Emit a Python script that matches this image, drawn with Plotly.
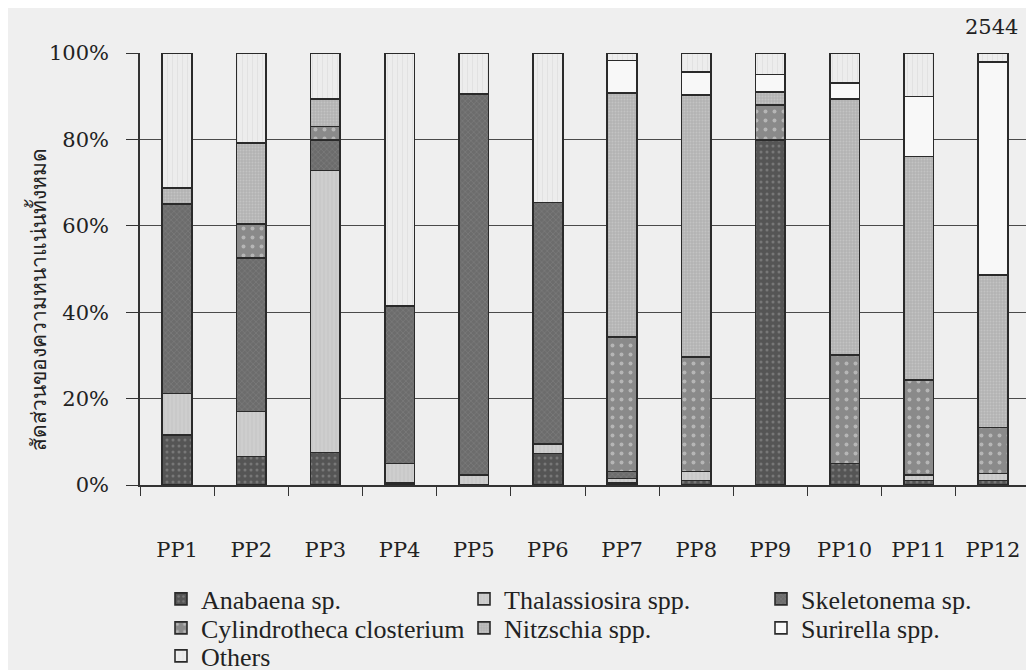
import plotly.graph_objects as go

categories = ["PP1", "PP2", "PP3", "PP4", "PP5", "PP6", "PP7", "PP8", "PP9", "PP10", "PP11", "PP12"]

anabaena      = [11.6, 6.6, 7.5, 0.5, 0.0, 7.3, 0.5, 1.0, 79.9, 5.0, 1.0, 1.0]
thalassiosira = [9.6, 10.4, 65.3, 4.5, 2.3, 2.2, 1.0, 2.1, 0.0, 0.0, 1.3, 1.7]
skeletonema   = [43.8, 35.5, 7.1, 36.5, 88.2, 55.9, 1.6, 0.0, 0.0, 0.0, 0.0, 0.0]
cylindrotheca = [0.0, 7.9, 3.1, 0.0, 0.0, 0.0, 31.2, 26.5, 8.1, 25.1, 22.0, 10.6]
nitzschia     = [3.7, 18.7, 6.3, 0.0, 0.0, 0.0, 56.5, 60.7, 3.0, 59.2, 51.7, 35.3]
surirella     = [0.0, 0.0, 0.0, 0.0, 0.0, 0.0, 7.5, 5.3, 4.0, 3.8, 13.9, 49.3]
others        = [31.3, 20.9, 10.7, 58.5, 9.5, 34.6, 1.7, 4.4, 5.0, 6.9, 10.1, 2.1]

y_ticks = [0, 20, 40, 60, 80, 100]
y_tick_labels = ["0%", "20%", "40%", "60%", "80%", "100%"]

# name, values, fill, pattern shape, pattern colour, pattern size, solidity
series = [
    ("Anabaena sp.", anabaena, "#555555", ".", "#9c9c9c", 6, 0.2),
    ("Thalassiosira spp.", thalassiosira, "#c9c9c9", "|", "#dadada", 4, 0.3),
    ("Skeletonema sp.", skeletonema, "#6c6c6c", "x", "#8e8e8e", 4, 0.3),
    ("Cylindrotheca closterium", cylindrotheca, "#8a8a8a", ".", "#e2e2e2", 9, 0.15),
    ("Nitzschia spp.", nitzschia, "#b3b3b3", ".", "#d3d3d3", 3, 0.3),
    ("Surirella spp.", surirella, "#f8f8f8", "", "#f8f8f8", 8, 0.3),
    ("Others", others, "#ededed", "|", "#cfcfcf", 5, 0.15),
]

# legend grid: 3 columns x 3 rows, filled row-wise (pixel positions in the figure)
legend_cols_px = [153, 456, 753]
legend_rows_px = [591, 620, 648]

W, H = 1034, 670
serif = "'DejaVu Serif', 'Liberation Serif', serif"
legend_font = dict(family="'Liberation Serif', 'DejaVu Serif', serif", size=26, color="#222222")

fig = go.Figure()
legend_layouts = {}
for i, (name, vals, col, shape, fg, size, sol) in enumerate(series):
    lid = "legend" if i == 0 else f"legend{i + 1}"
    fig.add_trace(go.Bar(
        x=categories, y=vals, name=name,
        width=0.4,
        legend=lid,
        marker=dict(
            color=col,
            line=dict(color="#2a2a2a", width=1.6),
            pattern=dict(shape=shape, fgcolor=fg, size=size, solidity=sol),
        ),
    ))
    r, c = divmod(i, 3)
    legend_layouts[lid] = dict(
        xref="container", yref="container",
        x=legend_cols_px[c] / W, xanchor="left",
        y=1 - legend_rows_px[r] / H, yanchor="middle",
        font=legend_font,
        bgcolor="rgba(0,0,0,0)",
        itemwidth=30,
    )

fig.update_layout(
    barmode="stack",
    barnorm="percent",
    width=W, height=H,
    margin=dict(l=132, r=12, t=45, b=193, autoexpand=False),
    paper_bgcolor="#efefef",
    plot_bgcolor="#efefef",
    font=dict(family=serif, size=20, color="#222222"),
    showlegend=True,
    xaxis=dict(
        showgrid=False,
        showline=True, linecolor="#333333", linewidth=1.5,
        ticks="outside", ticklen=9, tickcolor="#333333", tickwidth=1.2,
        tickson="boundaries",
        ticklabelstandoff=45,
        tickfont=dict(family=serif, size=21, color="#222222"),
    ),
    yaxis=dict(
        range=[0, 100],
        tickvals=y_ticks, ticktext=y_tick_labels,
        showgrid=True, gridcolor="#4a4a4a", gridwidth=1.3,
        showline=True, linecolor="#333333", linewidth=1.5, mirror=True,
        ticks="outside", ticklen=12, tickcolor="#333333", tickwidth=1.2,
        ticklabelstandoff=13,
        tickfont=dict(family=serif, size=21, color="#222222"),
        zeroline=False,
    ),
    annotations=[
        dict(
            text="สัดส่วนของความหนาแน่นทั้งหมด",
            xref="paper", yref="paper",
            x=-0.114, y=0.43, xanchor="center", yanchor="middle",
            textangle=-90, showarrow=False,
            font=dict(family="'Noto Sans', 'DejaVu Sans', sans-serif", size=21, color="#222222"),
        ),
        dict(
            text="2544",
            xref="paper", yref="paper",
            x=0.957, y=1.06, xanchor="center", yanchor="middle",
            showarrow=False,
            font=dict(family=serif, size=21, color="#222222"),
        ),
    ],
    **legend_layouts,
)

fig.write_html("out.html")
